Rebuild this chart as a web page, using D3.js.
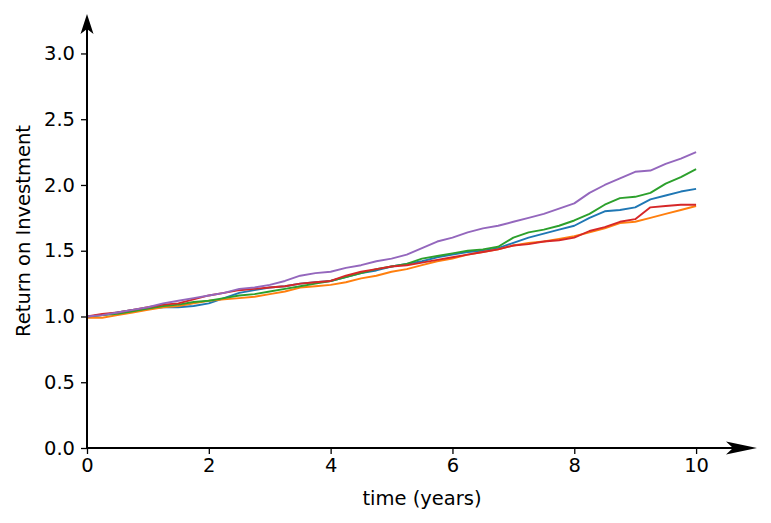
<!DOCTYPE html>
<html>
<head>
<meta charset="utf-8">
<script src="https://cdn.jsdelivr.net/npm/d3@7"></script>
<style>
  html, body { margin: 0; padding: 0; background: #fff; }
  svg { display: block; }
  text { font-family: "DejaVu Sans", sans-serif; fill: #000; }
</style>
</head>
<body>
<svg id="chart" width="771" height="523"></svg>
<script>
// time points (years)
const times = [0,0.25,0.5,0.75,1,1.25,1.5,1.75,2,2.25,2.5,2.75,3,3.25,3.5,3.75,4,4.25,4.5,4.75,5,5.25,5.5,5.75,6,6.25,6.5,6.75,7,7.25,7.5,7.75,8,8.25,8.5,8.75,9,9.25,9.5,9.75,10];

const seriesBlue   = [1.00,1.01,1.03,1.05,1.06,1.07,1.07,1.08,1.10,1.14,1.18,1.20,1.22,1.23,1.25,1.26,1.27,1.30,1.33,1.35,1.38,1.40,1.42,1.45,1.47,1.49,1.50,1.52,1.56,1.60,1.63,1.66,1.69,1.75,1.80,1.81,1.83,1.89,1.92,1.95,1.97];
const seriesOrange = [0.99,0.99,1.01,1.03,1.05,1.07,1.08,1.10,1.12,1.13,1.14,1.15,1.17,1.19,1.22,1.23,1.24,1.26,1.29,1.31,1.34,1.36,1.39,1.42,1.44,1.47,1.49,1.51,1.54,1.56,1.57,1.59,1.61,1.64,1.67,1.71,1.72,1.75,1.78,1.81,1.84];
const seriesGreen  = [1.00,1.01,1.02,1.04,1.06,1.08,1.09,1.11,1.12,1.14,1.16,1.17,1.19,1.21,1.23,1.25,1.27,1.30,1.33,1.36,1.38,1.40,1.44,1.46,1.48,1.50,1.51,1.53,1.60,1.64,1.66,1.69,1.73,1.78,1.85,1.90,1.91,1.94,2.01,2.06,2.12];
const seriesRed    = [1.00,1.02,1.03,1.05,1.07,1.09,1.10,1.13,1.16,1.18,1.20,1.21,1.22,1.23,1.25,1.26,1.27,1.31,1.34,1.36,1.38,1.39,1.41,1.43,1.45,1.47,1.49,1.51,1.54,1.55,1.57,1.58,1.60,1.65,1.68,1.72,1.74,1.83,1.84,1.85,1.85];
const seriesPurple = [1.00,1.01,1.03,1.05,1.07,1.10,1.12,1.14,1.16,1.18,1.21,1.22,1.24,1.27,1.31,1.33,1.34,1.37,1.39,1.42,1.44,1.47,1.52,1.57,1.60,1.64,1.67,1.69,1.72,1.75,1.78,1.82,1.86,1.94,2.00,2.05,2.10,2.11,2.16,2.20,2.25];

const seriesColors = ["#1f77b4","#ff7f0e","#2ca02c","#d62728","#9467bd"];
const xTicks = [0,2,4,6,8,10];
const yTicks = [0,0.5,1.0,1.5,2.0,2.5,3.0];
const xLabel = "time (years)";
const yLabel = "Return on Investment";

const allSeries = [seriesBlue, seriesOrange, seriesGreen, seriesRed, seriesPurple];

const svg = d3.select("#chart");
const left = 87, bottom = 448, rightEnd = 757, topEnd = 14;

const x = d3.scaleLinear().domain([0, 11]).range([left, rightEnd]);
const y = d3.scaleLinear().domain([0, 3.3]).range([bottom, topEnd]);

const fs = 19.5;

// lines
const line = d3.line().x((d, i) => x(times[i])).y(d => y(d));
allSeries.forEach((s, k) => {
  svg.append("path")
    .attr("d", line(s))
    .attr("fill", "none")
    .attr("stroke", seriesColors[k])
    .attr("stroke-width", 1.9)
    .attr("stroke-linejoin", "round");
});

// x axis
const xAxis = d3.axisBottom(x).tickValues(xTicks).tickFormat(d3.format("d")).tickSize(6).tickPadding(4);
const gx = svg.append("g").attr("transform", `translate(0,${bottom})`).call(xAxis);
gx.select(".domain").remove();
gx.selectAll(".tick line").attr("stroke", "#000").attr("stroke-width", 1.3);
gx.selectAll(".tick text").attr("font-size", fs).attr("font-family", "DejaVu Sans").attr("fill", "#000");

// y axis
const yAxis = d3.axisLeft(y).tickValues(yTicks).tickFormat(d3.format(".1f")).tickSize(6).tickPadding(6);
const gy = svg.append("g").attr("transform", `translate(${left},0)`).call(yAxis);
gy.select(".domain").remove();
gy.selectAll(".tick line").attr("stroke", "#000").attr("stroke-width", 1.3);
gy.selectAll(".tick text").attr("font-size", fs).attr("font-family", "DejaVu Sans").attr("fill", "#000");

// spines with arrows
svg.append("line").attr("x1", left).attr("y1", bottom).attr("x2", rightEnd - 20).attr("y2", bottom)
  .attr("stroke", "#000").attr("stroke-width", 2);
svg.append("line").attr("x1", left).attr("y1", bottom).attr("x2", left).attr("y2", topEnd + 14)
  .attr("stroke", "#000").attr("stroke-width", 2);

// x arrowhead
svg.append("path")
  .attr("d", `M${rightEnd},${bottom} L${rightEnd - 31},${bottom - 6.5} L${rightEnd - 24},${bottom} L${rightEnd - 31},${bottom + 6.5} Z`)
  .attr("fill", "#000");
// y arrowhead
svg.append("path")
  .attr("d", `M${left},${topEnd} L${left - 6.5},${topEnd + 20} L${left},${topEnd + 15} L${left + 6.5},${topEnd + 20} Z`)
  .attr("fill", "#000");

// axis labels
svg.append("text").attr("x", 422).attr("y", 505)
  .attr("text-anchor", "middle").attr("font-size", fs).text(xLabel);
svg.append("text").attr("transform", `translate(30,${y(1.65)}) rotate(-90)`)
  .attr("text-anchor", "middle").attr("font-size", fs).text(yLabel);
</script>
</body>
</html>
